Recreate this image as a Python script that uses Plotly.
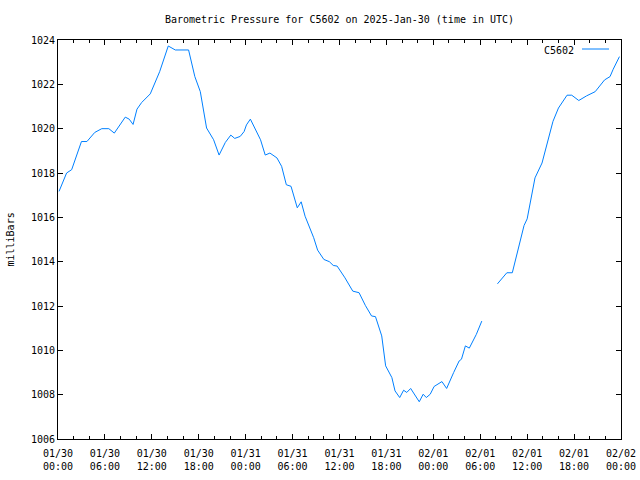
import datetime as dt
import plotly.graph_objects as go

# hours after 2025-01-30 00:00 UTC (None marks a gap in the record)
hours = [0.13, 1.1, 1.75, 3.0, 3.7, 4.7, 5.6, 6.5, 7.2, 8.6, 9.1, 9.6, 10.1, 10.7,
         11.8, 13.0, 14.1, 15.0, 16.7, 17.5, 18.2, 19.0, 19.9, 20.6, 21.4, 22.1,
         22.6, 23.3, 23.8, 24.1, 24.6, 25.9, 26.5, 27.1, 28.0, 28.6, 29.2, 29.8,
         30.6, 31.1, 31.6, 32.7, 33.2, 34.0, 34.7, 35.2, 35.7, 36.7, 37.7, 38.5,
         39.3, 40.1, 40.6, 41.4, 41.9, 42.7, 43.1, 43.7, 44.2, 44.6, 45.1, 46.2,
         46.7, 47.1, 47.6, 48.1, 49.1, 49.7, 50.6, 51.3, 51.6, 52.1, 52.6, 53.5,
         54.2, 55.2, 56.2, 57.4, 58.1, 58.9, 59.6, 60.0, 61.0, 61.9, 62.7, 63.3,
         64.0, 65.1, 65.7, 66.6, 67.6, 68.7, 69.9, 70.6, 71.0, 71.8]
pressure = [1017.17, 1018.0, 1018.15, 1019.42, 1019.42, 1019.83, 1020.0, 1020.0,
            1019.8, 1020.52, 1020.43, 1020.19, 1020.88, 1021.18, 1021.57, 1022.57,
            1023.73, 1023.55, 1023.55, 1022.35, 1021.67, 1020.03, 1019.5, 1018.81,
            1019.38, 1019.71, 1019.56, 1019.65, 1019.87, 1020.17, 1020.43, 1019.5,
            1018.81, 1018.9, 1018.68, 1018.3, 1017.47, 1017.4, 1016.43, 1016.70,
            1016.05, 1015.08, 1014.52, 1014.1, 1014.0, 1013.83, 1013.8, 1013.27,
            1012.67, 1012.6, 1012.03, 1011.55, 1011.52, 1010.65, 1009.3, 1008.77,
            1008.17, 1007.87, 1008.2, 1008.1, 1008.28, 1007.68, 1008.02, 1007.87,
            1008.02, 1008.37, 1008.59, 1008.28, 1009.0, 1009.52, 1009.6, 1010.2,
            1010.1, 1010.72, 1011.32, None, 1013.0, 1013.5, 1013.5, 1014.63,
            1015.63, 1015.93, 1017.78, 1018.45, 1019.58, 1020.33, 1020.93, 1021.51,
            1021.51, 1021.27, 1021.48, 1021.67, 1022.2, 1022.35, 1022.68, 1023.25]

tick_labels = ["01/30<br>00:00", "01/30<br>06:00", "01/30<br>12:00", "01/30<br>18:00",
               "01/31<br>00:00", "01/31<br>06:00", "01/31<br>12:00", "01/31<br>18:00",
               "02/01<br>00:00", "02/01<br>06:00", "02/01<br>12:00", "02/01<br>18:00",
               "02/02<br>00:00"]
y_ticks = [1006, 1008, 1010, 1012, 1014, 1016, 1018, 1020, 1022, 1024]
series_name = "C5602"
title_text = "Barometric Pressure for C5602 on 2025-Jan-30 (time in UTC)"

base = dt.datetime(2025, 1, 30, 0, 0)
times = [base + dt.timedelta(hours=h) for h in hours]
tick_vals = [base + dt.timedelta(hours=6 * i) for i in range(len(tick_labels))]

FONT = "DejaVu Sans Mono"
COLOR = "#0080ff"
L, R, T, B = 58, 621, 40, 439
PW, PH = R - L, B - T

fig = go.Figure()
fig.add_trace(go.Scatter(x=times, y=pressure, mode="lines", name=series_name,
                         line=dict(color=COLOR, width=1), connectgaps=False,
                         showlegend=False))

fig.update_layout(
    width=640, height=480,
    margin=dict(l=L, r=640 - R, t=T, b=480 - B),
    paper_bgcolor="white", plot_bgcolor="white",
    font=dict(family=FONT, size=10, color="black"),
    title=dict(text=title_text, x=(L + R) / 2 / 640, xanchor="center",
               y=1 - 19 / 480, yanchor="middle", font=dict(family=FONT, size=10)),
)
fig.update_xaxes(
    type="date", range=[base, base + dt.timedelta(hours=72)], automargin=False,
    tickvals=tick_vals, ticktext=tick_labels, ticklabelstandoff=5,
    ticks="inside", ticklen=5, tickcolor="black", tickwidth=1,
    minor=dict(dtick=2 * 3600 * 1000, ticks="inside", ticklen=3, tickcolor="black"),
    showline=True, linecolor="black", linewidth=1, mirror="allticks",
    showgrid=False, zeroline=False, tickfont=dict(family=FONT, size=10),
)
fig.update_yaxes(
    range=[1006, 1024], tickvals=y_ticks, ticktext=[str(v) for v in y_ticks],
    automargin=False,
    ticks="inside", ticklen=5, tickcolor="black", tickwidth=1,
    showline=True, linecolor="black", linewidth=1, mirror="allticks",
    showgrid=False, zeroline=False, tickfont=dict(family=FONT, size=10),
)
fig.add_annotation(text="milliBars", textangle=-90, xref="paper", yref="paper",
                   x=(10 - L) / PW, y=0.5, xanchor="center", yanchor="middle",
                   showarrow=False, font=dict(family=FONT, size=10))
# legend key (gnuplot style: text then sample line)
fig.add_annotation(text=series_name, xref="paper", yref="paper",
                   x=(576 - L) / PW, y=(B - 50) / PH, xanchor="right",
                   yanchor="middle", showarrow=False, font=dict(family=FONT, size=10))
fig.add_shape(type="line", xref="paper", yref="paper",
              x0=(582 - L) / PW, x1=(609 - L) / PW,
              y0=(B - 49) / PH, y1=(B - 49) / PH,
              line=dict(color=COLOR, width=1))

fig.write_html("out.html")
